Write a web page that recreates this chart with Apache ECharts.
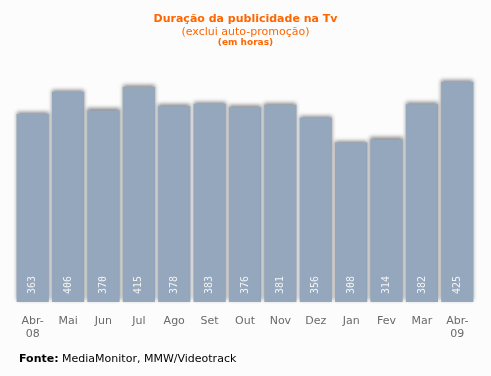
<!DOCTYPE html>
<html>
<head>
<meta charset="utf-8">
<script src="https://cdn.jsdelivr.net/npm/echarts@6/dist/echarts.min.js"></script>
<style>
  html, body { margin: 0; padding: 0; background: #fcfcfc; }
  #myChart { width: 491px; height: 376px; }
</style>
</head>
<body>
<div id="myChart"></div>
<script>
// meses (Abr-08 a Abr-09)
var monthCategories = ["Abr-\n08", "Mai", "Jun", "Jul", "Ago", "Set", "Out", "Nov", "Dez", "Jan", "Fev", "Mar", "Abr-\n09"];
// horas de publicidade
var hoursData = [363, 406, 370, 415, 378, 383, 376, 381, 356, 308, 314, 382, 425];

var myChart = echarts.init(document.getElementById("myChart"));
myChart.setOption({
  backgroundColor: "#fcfcfc",
  animation: false,
  graphic: [
    {
      type: "text",
      left: "center",
      top: 14,
      style: { text: "Duração da publicidade na Tv", font: "bold 11px DejaVu Sans", fill: "#ff6600" }
    },
    {
      type: "text",
      left: "center",
      top: 27,
      style: { text: "(exclui auto-promoção)", font: "11px DejaVu Sans", fill: "#ff6600" }
    },
    {
      type: "text",
      left: "center",
      top: 38,
      style: { text: "(em horas)", font: "bold 9px DejaVu Sans", fill: "#ff6600" }
    },
    {
      type: "text",
      left: 19,
      top: 354,
      style: {
        text: "{b|Fonte:} MediaMonitor, MMW/Videotrack",
        rich: {
          b: { font: "bold 11px DejaVu Sans", fill: "#000" }
        },
        font: "11px DejaVu Sans",
        fill: "#000"
      }
    }
  ],
  grid: { left: 15, right: 16, top: 69, bottom: 74 },
  xAxis: {
    type: "category",
    data: monthCategories,
    axisLine: { show: false },
    axisTick: { show: false },
    axisLabel: {
      color: "#6a6a6a",
      fontFamily: "DejaVu Sans",
      fontSize: 11,
      margin: 13,
      lineHeight: 13,
      interval: 0
    }
  },
  yAxis: {
    type: "value",
    min: 0,
    max: 450,
    show: false,
    splitLine: { show: false }
  },
  series: [
    {
      name: "horas",
      type: "bar",
      data: hoursData,
      barCategoryGap: "9%",
      itemStyle: {
        color: "#94a7bd",
        shadowColor: "rgba(0,0,0,0.45)",
        shadowBlur: 4,
        shadowOffsetY: -2
      },
      label: {
        show: true,
        position: "insideBottom",
        rotate: 90,
        align: "left",
        verticalAlign: "middle",
        distance: 8,
        color: "#f4f4f4",
        fontFamily: "DejaVu Sans Mono",
        fontSize: 10
      }
    }
  ]
});
</script>
</body>
</html>
